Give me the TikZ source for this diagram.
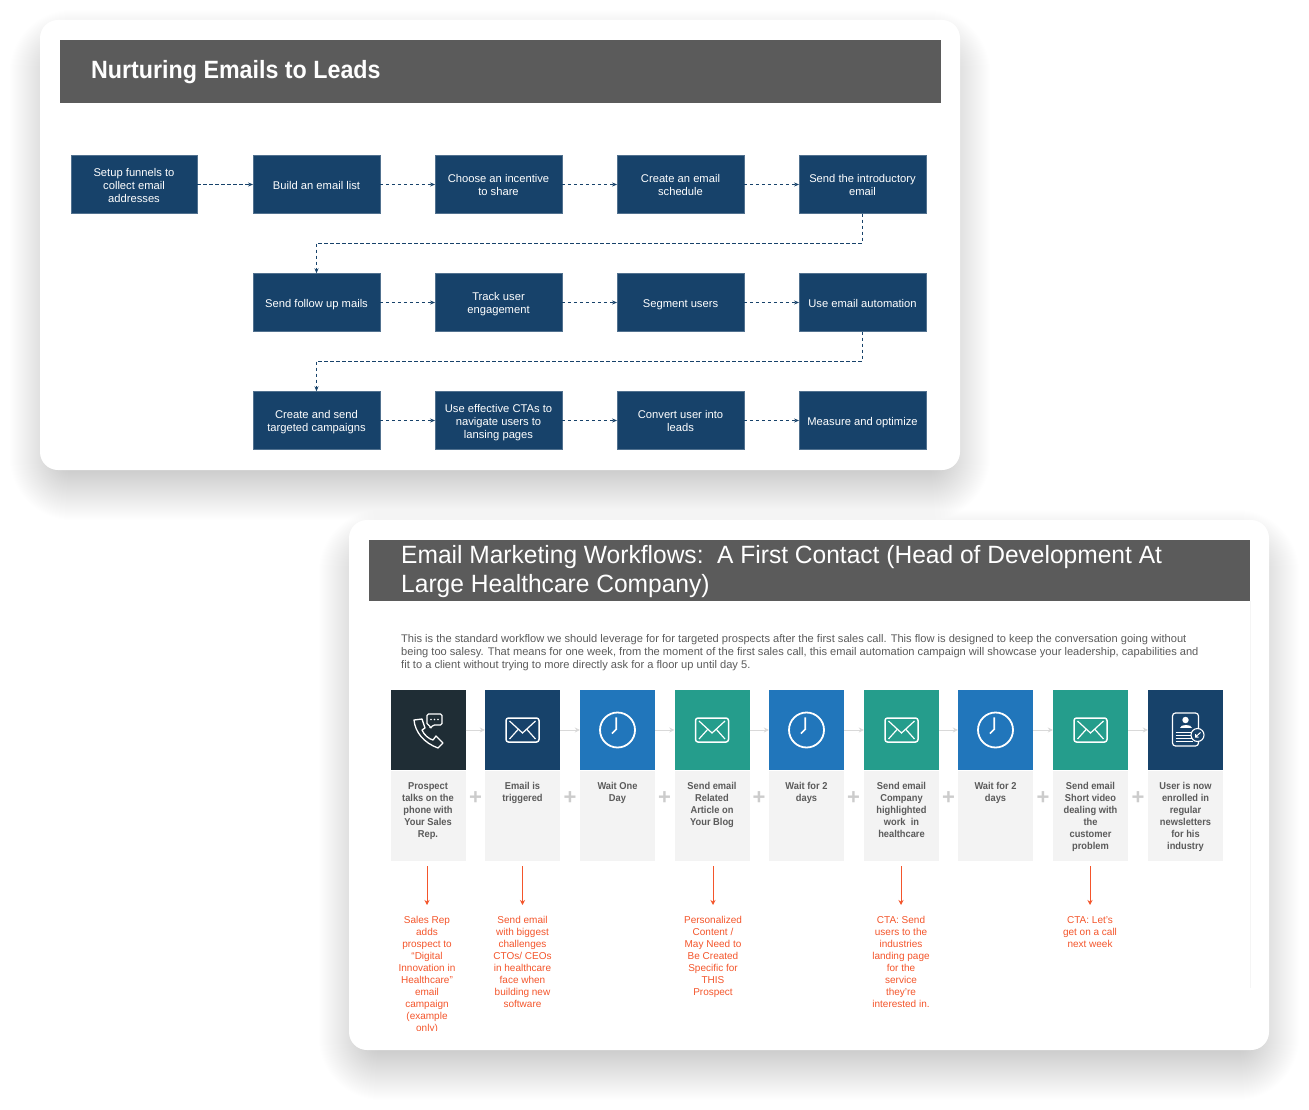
\documentclass[tikz,border=0pt]{standalone}
\usepackage{fontspec}
\setmainfont{Liberation Sans}
\newfontfamily\tightfont{Liberation Sans}[FakeStretch=0.93]
\newfontfamily\headfont{Liberation Sans}[FakeStretch=0.982]
\usetikzlibrary{arrows.meta}
\definecolor{navy}{HTML}{17426A}
\definecolor{sky}{HTML}{2176BB}
\definecolor{teal}{HTML}{259D8C}
\definecolor{ink}{HTML}{1F2D35}
\definecolor{slate}{HTML}{5B5B5B}
\definecolor{panelgray}{HTML}{F3F3F3}
\definecolor{redorange}{HTML}{F4552B}
\newcommand{\boxtop}{\rule{0pt}{13pt}}
\newcommand{\boxbottom}{\rule[-3pt]{0pt}{3pt}}
\newcommand{\lineup}{\rule{0pt}{12.2pt}}
\tikzset{
  mailicon/.pic={
    \draw[white,line width=1.5pt,rounded corners=2.5pt] (-16.5,-12) rectangle (16.5,12);
    \draw[white,line width=1.2pt] (-13,-9) -- (0,3) -- (13,-9);
    \draw[white,line width=1.2pt] (-13,9) -- (-4,-1);
    \draw[white,line width=1.2pt] (13,9) -- (4,-1);
  },
  clockicon/.pic={
    \draw[white,line width=1.8pt] (0,0) circle (17.5);
    \draw[white,line width=1.6pt] (-5.6,3.5) -- (-1.3,-.6) -- (-1.3,-12.6);
  },
  phoneicon/.pic={
    \draw[white,line width=1.3pt,line join=round] (-14,-10) -- (-6,-11) -- (-3,-2) -- (-6,0)
      .. controls (-4,5) and (1,9) .. (5,10) -- (8,6) -- (15,13) -- (10,18)
      .. controls (-4,13) and (-13,2) .. cycle;
    \draw[white,line width=1.2pt,rounded corners=1.5pt] (-1,-16) -- (14,-16) -- (14,-5) -- (5,-5)
      -- (2,-1) -- (2,-5) -- (-1,-5) -- cycle;
    \fill[white] (3,-10.5) circle (.8) (6.5,-10.5) circle (.8) (10,-10.5) circle (.8);
  },
  cardicon/.pic={
    \draw[white,line width=1.2pt,rounded corners=3pt] (-13,-17) rectangle (13,16);
    \fill[white] (0,-10) circle (3.2);
    \fill[white] (-6,-2) .. controls (-6,-6) and (6,-6) .. (6,-2) -- cycle;
    \draw[white,line width=1pt] (-10,2) -- (8,2) (-10,5) -- (6,5) (-10,8) -- (6,8) (-10,11) -- (7,11);
    \draw[white,line width=1.1pt,fill=navy] (12,5) circle (6.5);
    \draw[white,line width=1pt] (15,2.5) -- (10,7) (10,4) -- (10,7) -- (13,7);
  }
}
\begin{document}
\begin{tikzpicture}[x=1pt,y=-1pt]
\tikzstyle{card}=[fill=white,rounded corners=18pt]
\tikzstyle{box}=[draw=navy!75,line width=.4pt,fill=navy,text=white,minimum width=126.5pt,minimum height=58pt,inner sep=0pt,align=center,font=\fontsize{11.2}{13}\selectfont,execute at begin node=\boxtop,execute at end node=\boxbottom]
\tikzstyle{flow}=[navy,line width=.7pt,dash pattern=on 3.5pt off 2.5pt,-{Stealth[length=5pt,width=4pt]}]
\tikzstyle{tile}=[minimum width=75pt,minimum height=80.5pt,inner sep=0pt]
\tikzstyle{panel}=[fill=panelgray,minimum width=75pt,minimum height=90pt,inner sep=0pt]
\tikzstyle{caption}=[anchor=north,inner sep=0pt,align=center,text=slate,font=\tightfont\bfseries\fontsize{10}{12}\selectfont]
\tikzstyle{note}=[anchor=north,inner sep=0pt,align=center,text=redorange,font=\fontsize{10}{12}\selectfont]
\tikzstyle{link}=[black!15,line width=1pt,-{Stealth[length=5pt,width=5pt]}]
\tikzstyle{hot}=[redorange,line width=.9pt,-{Stealth[length=5pt,width=5pt]}]
\tikzstyle{plus}=[text=black!20,inner sep=0pt,font=\bfseries\fontsize{22}{22}\selectfont]
\useasboundingbox (0,0) rectangle (1309,1110);
\fill[white] (0,0) rectangle (1309,1110);
% first card and its soft shadow
\foreach \s in {0,...,60} {
  \pgfmathsetmacro\r{\s+2}
  \fill[black,opacity=.0045,rounded corners=\r pt] (70-\s,70-\s) rectangle (930+\s,460+\s);
}
\fill[card] (40,20) rectangle (960,470);
\fill[slate] (60,40) rectangle (941,103);
\node[anchor=base west,inner sep=0pt,text=white,font=\tightfont\bfseries\fontsize{25}{29}\selectfont] (title) at (91,79) {Nurturing Emails to Leads};
\node[box] (a1) at (134,184.5) {\lineup Setup funnels to\\collect email\\addresses};
\node[box] (a2) at (316.5,184.5) {Build an email list};
\node[box] (a3) at (498.5,184.5) {\lineup Choose an incentive\\to share};
\node[box] (a4) at (680.5,184.5) {\lineup Create an email\\schedule};
\node[box] (a5) at (862.5,184.5) {\lineup Send the introductory\\email};
\node[box] (b1) at (316.5,302.5) {Send follow up mails};
\node[box] (b2) at (498.5,302.5) {\lineup Track user\\engagement};
\node[box] (b3) at (680.5,302.5) {Segment users};
\node[box] (b4) at (862.5,302.5) {Use email automation};
\node[box] (c1) at (316.5,420.5) {\lineup Create and send\\targeted campaigns};
\node[box] (c2) at (498.5,420.5) {\lineup Use effective CTAs to\\navigate users to\\lansing pages};
\node[box] (c3) at (680.5,420.5) {\lineup Convert user into\\leads};
\node[box] (c4) at (862.5,420.5) {Measure and optimize};
\coordinate (ab) at (862.5,243);
\coordinate (bc) at (862.5,361);
\draw[flow] (a1) -- (a2);
\draw[flow] (a2) -- (a3);
\draw[flow] (a3) -- (a4);
\draw[flow] (a4) -- (a5);
\draw[flow] (a5) -- (ab) -| (b1);
\draw[flow] (b1) -- (b2);
\draw[flow] (b2) -- (b3);
\draw[flow] (b3) -- (b4);
\draw[flow] (b4) -- (bc) -| (c1);
\draw[flow] (c1) -- (c2);
\draw[flow] (c2) -- (c3);
\draw[flow] (c3) -- (c4);
% second card and its soft shadow
\foreach \s in {0,...,60} {
  \pgfmathsetmacro\r{\s+2}
  \fill[black,opacity=.0045,rounded corners=\r pt] (379-\s,570-\s) rectangle (1239+\s,1040+\s);
}
\fill[card] (349,520) rectangle (1269,1050);
\fill[slate] (369,540) rectangle (1250,601);
\draw[black!4,line width=.8pt] (1250,601) -- (1250,988);
\node[anchor=north west,inner sep=0pt,align=left,text=white,font=\headfont\fontsize{25}{29}\selectfont] (head) at (401,545) {Email Marketing Workflows:\ \ A First Contact (Head of Development At\\Large Healthcare Company)};
\node[anchor=north west,inner sep=0pt,align=left,text=slate,font=\fontsize{11.1}{13}\selectfont] (intro) at (401,634.5) {This is the standard workflow we should leverage for for targeted prospects after the first sales call. This flow is designed to keep the conversation going without\\being too salesy. That means for one week, from the moment of the first sales call, this email automation campaign will showcase your leadership, capabilities and\\fit to a client without trying to more directly ask for a floor up until day 5.};
\node[tile,fill=ink] (t1) at (428,730) {};
\node[tile,fill=navy] (t2) at (522.5,730) {};
\node[tile,fill=sky] (t3) at (617.5,730) {};
\node[tile,fill=teal] (t4) at (712,730) {};
\node[tile,fill=sky] (t5) at (806.5,730) {};
\node[tile,fill=teal] (t6) at (901.5,730) {};
\node[tile,fill=sky] (t7) at (995.5,730) {};
\node[tile,fill=teal] (t8) at (1090.5,730) {};
\node[tile,fill=navy] (t9) at (1185.5,730) {};
\draw[link] (t1) -- (t2);
\draw[link] (t2) -- (t3);
\draw[link] (t3) -- (t4);
\draw[link] (t4) -- (t5);
\draw[link] (t5) -- (t6);
\draw[link] (t6) -- (t7);
\draw[link] (t7) -- (t8);
\draw[link] (t8) -- (t9);
\pic at (t1) {phoneicon};
\pic at (t2) {mailicon};
\pic at (t3) {clockicon};
\pic at (t4) {mailicon};
\pic at (t5) {clockicon};
\pic at (t6) {mailicon};
\pic at (t7) {clockicon};
\pic at (t8) {mailicon};
\pic at (t9) {cardicon};
\node[panel] (p1) at (428,816) {};
\node[panel] (p2) at (522.5,816) {};
\node[panel] (p3) at (617.5,816) {};
\node[panel] (p4) at (712,816) {};
\node[panel] (p5) at (806.5,816) {};
\node[panel] (p6) at (901.5,816) {};
\node[panel] (p7) at (995.5,816) {};
\node[panel] (p8) at (1090.5,816) {};
\node[panel] (p9) at (1185.5,816) {};
\node[caption] (q1) at (428,782) {Prospect\\talks on the\\phone with\\Your Sales\\Rep.};
\node[caption] (q2) at (522.5,782) {Email is\\triggered};
\node[caption] (q3) at (617.5,782) {Wait One\\Day};
\node[caption] (q4) at (712,782) {Send email\\Related\\Article on\\Your Blog};
\node[caption] (q5) at (806.5,782) {Wait for 2\\days};
\node[caption] (q6) at (901.5,782) {Send email\\Company\\highlighted\\work\ \ in\\healthcare};
\node[caption] (q7) at (995.5,782) {Wait for 2\\days};
\node[caption] (q8) at (1090.5,782) {Send email\\Short video\\dealing with\\the\\customer\\problem};
\node[caption] (q9) at (1185.5,782) {User is now\\enrolled in\\regular\\newsletters\\for his\\industry};
\foreach \x/\m in {475.5/a,570/b,664.5/c,759/d,853.5/e,948.5/f,1043/g,1138/h} {
  \node[plus] (plus\m) at (\x,798) {+};
}
\begin{scope}
\clip (349,860) rectangle (1269,1030);
\node[note] (n1) at (427,916) {Sales Rep\\adds\\prospect to\\“Digital\\Innovation in\\Healthcare”\\email\\campaign\\(example\\only)};
\end{scope}
\node[note] (n2) at (522.5,916) {Send email\\with biggest\\challenges\\CTOs/ CEOs\\in healthcare\\face when\\building new\\software};
\node[note] (n4) at (713,916) {Personalized\\Content /\\May Need to\\Be Created\\Specific for\\THIS\\Prospect};
\node[note] (n6) at (901,916) {CTA: Send\\users to the\\industries\\landing page\\for the\\service\\they're\\interested in.};
\node[note] (n8) at (1090,916) {CTA: Let's\\get on a call\\next week};
\coordinate (h1) at (427,866);
\coordinate (h2) at (522.5,866);
\coordinate (h4) at (713,866);
\coordinate (h6) at (901,866);
\coordinate (h8) at (1090,866);
\draw[hot] (h1) -- (427,905);
\draw[hot] (h2) -- (522.5,905);
\draw[hot] (h4) -- (713,905);
\draw[hot] (h6) -- (901,905);
\draw[hot] (h8) -- (1090,905);
\end{tikzpicture}
\end{document}
